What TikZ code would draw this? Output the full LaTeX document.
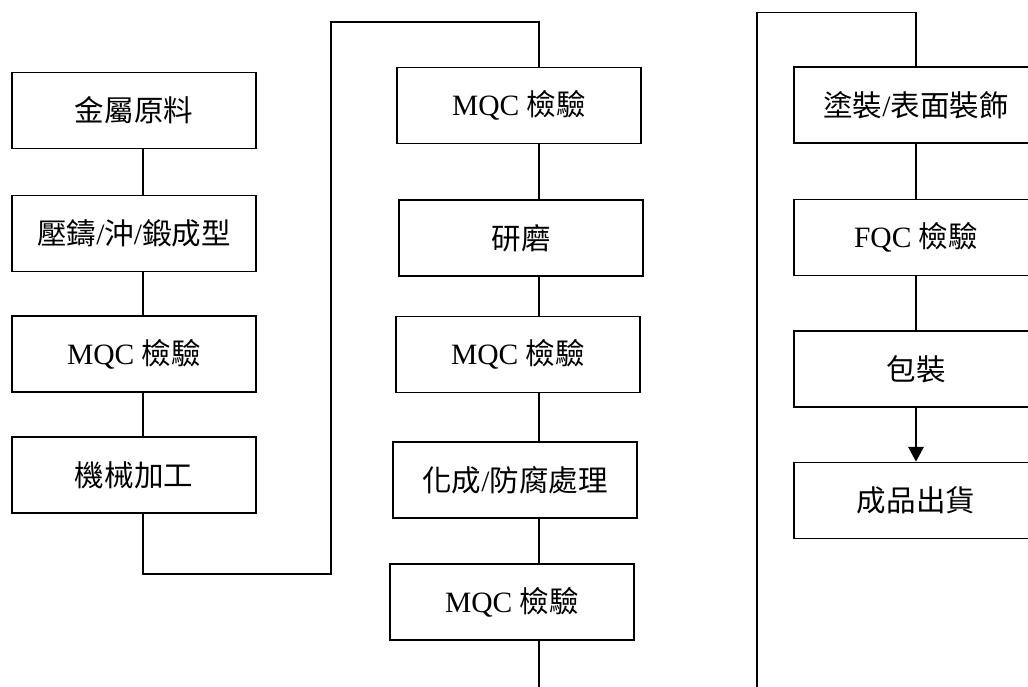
\documentclass[tikz,border=0pt]{standalone}
\usepackage{fontspec}
\setmainfont{Liberation Serif}
\newfontfamily\zhfont{Noto Sans CJK TC}
\newcommand{\zh}[1]{{\zhfont #1}}
\usetikzlibrary{arrows.meta}
\tikzset{
  stepbox/.style={draw, line width=1.2pt, fill=white, minimum width=6.1cm, minimum height=1.9cm, inner sep=0pt, font=\fontsize{21}{25}\selectfont},
  link/.style={line width=1.2pt}
}

\begin{document}
\begin{tikzpicture}[x=0.025cm, y=-0.025cm]
\useasboundingbox (0,0) rectangle (1028,686);
\clip (0,0) rectangle (1028,686);
\coordinate (s1) at (143,0);
\coordinate (s2) at (539,0);
\coordinate (s3) at (916,0);
\node[stepbox] (raw) at (134,110.5) {\zh{金屬原料}};
\node[stepbox] (form) at (134,233.5) {\zh{壓鑄}/\zh{沖}/\zh{鍛成型}};
\node[stepbox] (mqca) at (134,354) {MQC \zh{檢驗}};
\node[stepbox] (mach) at (134,475) {\zh{機械加工}};
\node[stepbox] (mqcb) at (519,105.5) {MQC \zh{檢驗}};
\node[stepbox] (grind) at (521,238) {\zh{研磨}};
\node[stepbox] (mqcc) at (518,354.5) {MQC \zh{檢驗}};
\node[stepbox] (chem) at (515,480) {\zh{化成}/\zh{防腐處理}};
\node[stepbox] (mqcd) at (512,602) {MQC \zh{檢驗}};
\node[stepbox] (coat) at (916,105) {\zh{塗裝}/\zh{表面裝飾}};
\node[stepbox] (fqc) at (916,237.5) {FQC \zh{檢驗}};
\node[stepbox] (pack) at (916,369) {\zh{包裝}};
\node[stepbox] (ship) at (916,500.5) {\zh{成品出貨}};
\coordinate (turnA) at (331,574);
\coordinate (turnB) at (331,22);
\coordinate (endA) at (539,690);
\coordinate (startB) at (757,690);
\coordinate (turnC) at (757,12.5);
\draw[link] (raw.south -| s1) -- (form.north -| s1);
\draw[link] (form.south -| s1) -- (mqca.north -| s1);
\draw[link] (mqca.south -| s1) -- (mach.north -| s1);
\draw[link] (mach.south -| s1) |- (turnA) -- (turnB) -| (mqcb.north -| s2);
\draw[link] (mqcb.south -| s2) -- (grind.north -| s2);
\draw[link] (grind.south -| s2) -- (mqcc.north -| s2);
\draw[link] (mqcc.south -| s2) -- (chem.north -| s2);
\draw[link] (chem.south -| s2) -- (mqcd.north -| s2);
\draw[link] (mqcd.south -| s2) -- (endA);
\draw[link] (startB) -- (turnC) -| (coat.north -| s3);
\draw[link] (coat.south -| s3) -- (fqc.north -| s3);
\draw[link] (fqc.south -| s3) -- (pack.north -| s3);
\draw[link, -{Triangle[width=11pt,length=10.5pt]}] (pack.south -| s3) -- (ship.north -| s3);
\end{tikzpicture}
\end{document}
